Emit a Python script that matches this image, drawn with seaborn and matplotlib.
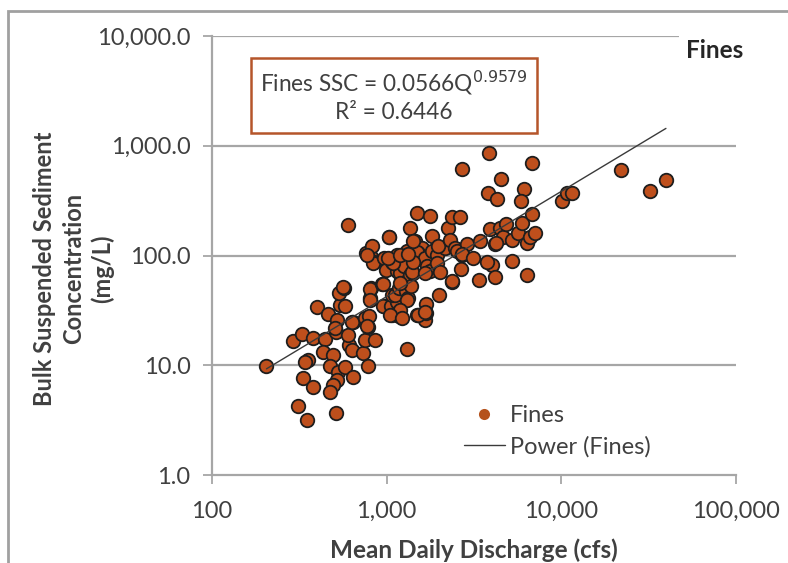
import numpy as np
import pandas as pd
import matplotlib.pyplot as plt
from matplotlib.ticker import FuncFormatter, FixedLocator, NullLocator
from matplotlib.patches import Rectangle
from matplotlib.lines import Line2D
import seaborn as sns

# Mean daily discharge (cfs) and bulk suspended sediment concentration (mg/L)
discharge_cfs = [
    # low flows
    205, 292, 329, 377, 397, 459, 443, 433, 356, 340, 495, 473, 529, 577, 611,
    631, 638, 518, 495, 473, 330, 380, 312, 351, 513, 541, 536, 518, 513, 571,
    599, 603, 644, 565, 577, 631, 503,
    # middle cluster
    735, 785, 752, 857, 785, 752, 796, 769, 800, 812, 802, 802, 760, 812, 822,
    846, 838, 769, 970, 1037, 990, 940, 958, 970, 957, 1057, 1071, 1184, 1146,
    1071, 1117, 1184, 1208, 1146, 1191, 1071, 1146, 1225, 1310, 1265, 1092,
    1310, 1358, 1292, 1325, 1301, 1191, 1045, 1219, 1380, 1191, 1416, 1390,
    1310, 1353, 1493, 1762, 1445, 1596, 1513, 1486, 1649, 1706, 1820, 1820,
    1945, 1884, 1762, 1649, 1419, 1934, 2018, 1682, 1493, 1649, 1682, 1517,
    1656, 2001, 2147, 1972, 2253, 2377, 2625, 2295, 2453, 2535, 2710, 2893,
    2675, 2377, 2710, 1021, 1191, 1330, 1035, 1419, 2685, 2355,
    # high flows
    3133, 3419, 3388, 3865, 3786, 4295, 4508, 3900, 4166, 4454, 4645, 4818,
    5200, 3991, 4170, 3776, 5200, 5663, 5929, 6138, 5870, 6760, 6760, 6324,
    6607, 7063, 6383, 10050, 10720, 11490, 21870, 32100, 39700, 4227,
]
ssc_mg_l = [
    9.8, 16.6, 19.1, 17.8, 33.6, 29.6, 17.5, 13.2, 11.1, 10.7, 12.4, 9.8, 8.7, 9.7, 15.2,
    13.7, 7.8, 7.3, 6.6, 5.7, 7.7, 6.4, 4.24, 3.16, 3.64, 35.3, 45.7, 25.8, 20.2, 51,
    191, 18.8, 24.9, 52, 35, 25, 22,
    12.8, 9.8, 16.9, 16.9, 22.4, 26.7, 28, 23, 40.8, 51, 50, 39, 105, 97, 122,
    88, 85, 101, 94, 147, 74, 55, 55, 35, 34.6, 35, 29, 28, 37.8,
    44, 43.5, 51, 64, 72, 69, 87, 101, 94, 109, 80, 85,
    59, 66, 47, 40.8, 39, 31.8, 28.6, 26.7, 53, 56, 69, 71,
    14.2, 177, 245, 231, 136, 117, 105, 108, 94, 80, 109, 149,
    101, 77, 72, 69, 88, 85, 71, 36, 29, 26, 30, 28.6,
    30.7, 44, 117, 122, 177, 222, 225, 138, 117, 109, 101, 126,
    76, 57, 615, 94, 101, 104, 146, 136, 104, 59,
    94, 136, 60, 863, 373, 324, 494, 173, 128, 177, 148, 193,
    138, 82, 64, 87, 90, 159, 196, 401, 315, 692, 238, 129,
    146, 159, 67, 313, 368, 372, 606, 391, 483, 129,
]

# power trend line given on the chart
fit_coef = 0.0566
fit_exp = 0.9579
r_squared = 0.6446

x_ticks = [100, 1000, 10000, 100000]
y_ticks = [1, 10, 100, 1000, 10000]

sns.set_theme(style='white')
plt.rcParams['font.family'] = ['Lato', 'DejaVu Sans']

df = pd.DataFrame({'Q': discharge_cfs, 'SSC': ssc_mg_l})
q_line = np.geomspace(min(discharge_cfs), max(discharge_cfs), 60)
fit_df = pd.DataFrame({'Q': q_line, 'SSC': fit_coef * q_line ** fit_exp})

fig = plt.figure(figsize=(7.88, 5.63), dpi=100)
ax = fig.add_axes([212 / 788, 1 - 475 / 563, 524 / 788, 439 / 563])
ax.set(xscale='log', yscale='log')

grid_col = '#A6A6A6'
ax.set_xlim(100, 100000)
ax.set_ylim(1, 10000)
for yv in y_ticks[1:]:
    ax.axhline(yv, color=grid_col, lw=1.6, zorder=0)

sns.scatterplot(data=df, x='Q', y='SSC', ax=ax, s=95, color='#BE4F1C',
                edgecolor='#1E1E1E', linewidth=1.3, label='Fines', zorder=2, legend=False)
sns.lineplot(data=fit_df, x='Q', y='SSC', ax=ax, color='#3A3A3A', lw=1.0,
             label='Power (Fines)', zorder=3, legend=False)

ax.xaxis.set_major_locator(FixedLocator(x_ticks))
ax.yaxis.set_major_locator(FixedLocator(y_ticks))
ax.xaxis.set_minor_locator(NullLocator())
ax.yaxis.set_minor_locator(NullLocator())
ax.xaxis.set_major_formatter(FuncFormatter(lambda v, p: f'{v:,.0f}'))
ax.yaxis.set_major_formatter(FuncFormatter(lambda v, p: f'{v:,.1f}'))
ax.tick_params(axis='both', which='major', direction='out', length=6.5, width=1.3,
               color=grid_col, labelsize=17, labelcolor='#404040', left=True, bottom=True)
ax.tick_params(axis='y', pad=9)
ax.tick_params(axis='x', pad=12)

for side in ['top', 'right']:
    ax.spines[side].set_visible(False)
for side in ['left', 'bottom']:
    ax.spines[side].set_color(grid_col)
    ax.spines[side].set_linewidth(1.6)

ax.set_xlabel('Mean Daily Discharge (cfs)', fontsize=17.5, fontweight='bold', color='#404040')
ax.xaxis.set_label_coords(0.5, -0.145)
ax.set_ylabel('Bulk Suspended Sediment\nConcentration\n(mg/L)', fontsize=17,
              fontweight='bold', color='#404040', linespacing=1.3)
ax.yaxis.set_label_coords(-0.186, 0.47)

# title inside the plot, covering the top grid line
ax.text(0.96, 0.967, 'Fines', transform=ax.transAxes, ha='center', va='center',
        fontsize=17.5, fontweight='bold', color='#262626', zorder=4,
        bbox=dict(boxstyle='square,pad=0.3', fc='white', ec='none'))

# equation box
ax.text(0.347, 0.863, f'Fines SSC = {fit_coef}Q$^{{{fit_exp}}}$\nR² = {r_squared}',
        transform=ax.transAxes, ha='center', va='center', fontsize=16.3, color='#404040',
        linespacing=1.3, zorder=4,
        bbox=dict(boxstyle='square,pad=0.42', fc='white', ec='#B5552A', lw=1.8))

handles = [
    Line2D([], [], marker='o', ls='none', markersize=8, markerfacecolor='#B5521C',
           markeredgecolor='none'),
    Line2D([], [], color='#3A3A3A', lw=1.0),
]
ax.legend(handles, ['Fines', 'Power (Fines)'], loc='lower left', bbox_to_anchor=(0.44, -0.008),
          frameon=False, fontsize=17, labelcolor='#404040', handlelength=1.75,
          handletextpad=0.2, labelspacing=0.42)

# chart area border (left and top edges visible)
fig.patches.append(Rectangle((8 / 788, -0.1), 1.2, 1.1 - 11 / 563, transform=fig.transFigure,
                             fill=False, ec='#A0A0A0', lw=2.0))

fig.savefig('out.png', dpi=100)
